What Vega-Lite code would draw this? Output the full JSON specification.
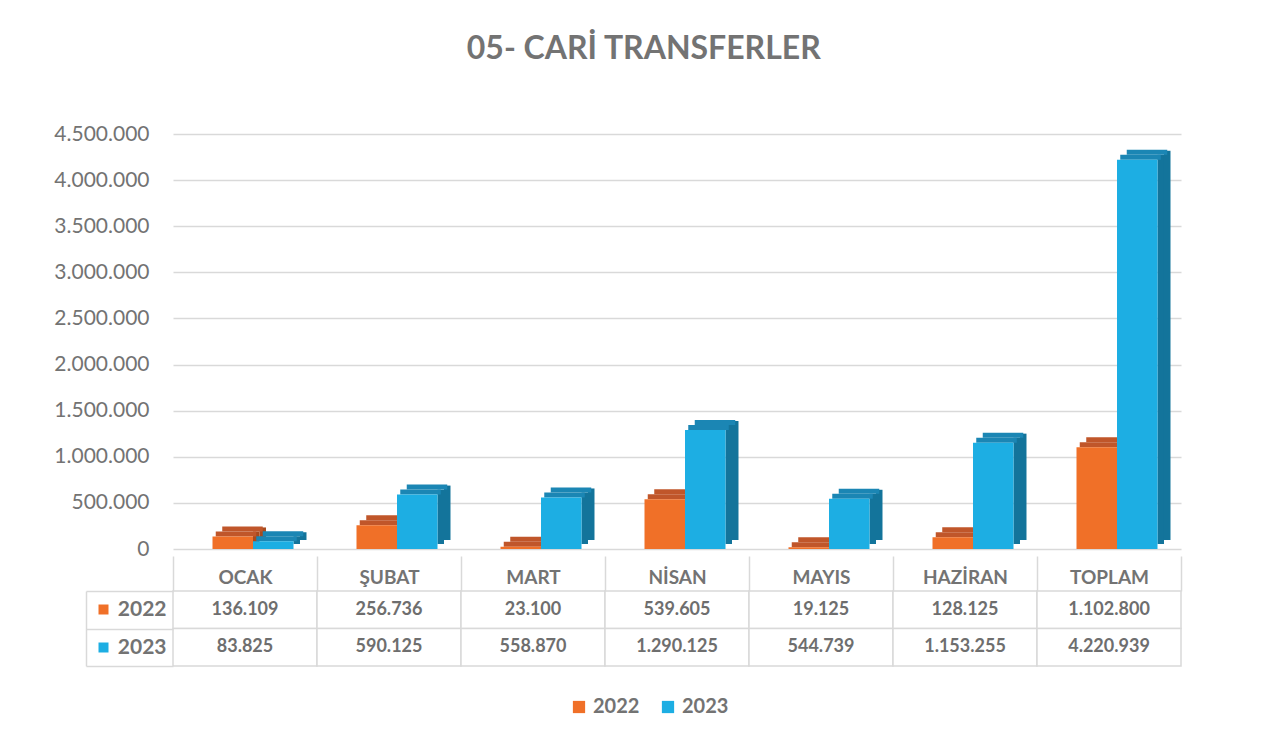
{
  "$schema": "https://vega.github.io/schema/vega-lite/v6.json",
  "background": "white",
  "padding": {"left": 53, "top": 33, "right": 10, "bottom": 10},
  "title": {"text": "05- CARİ TRANSFERLER", "font": "Lato", "fontSize": 32, "fontWeight": "bold", "color": "#737373", "anchor": "middle", "offset": 57, "dx": 26},
  "data": {"values": [
    {"month": "OCAK", "year": "2022", "value": 136109},
    {"month": "OCAK", "year": "2023", "value": 83825},
    {"month": "ŞUBAT", "year": "2022", "value": 256736},
    {"month": "ŞUBAT", "year": "2023", "value": 590125},
    {"month": "MART", "year": "2022", "value": 23100},
    {"month": "MART", "year": "2023", "value": 558870},
    {"month": "NİSAN", "year": "2022", "value": 539605},
    {"month": "NİSAN", "year": "2023", "value": 1290125},
    {"month": "MAYIS", "year": "2022", "value": 19125},
    {"month": "MAYIS", "year": "2023", "value": 544739},
    {"month": "HAZİRAN", "year": "2022", "value": 128125},
    {"month": "HAZİRAN", "year": "2023", "value": 1153255},
    {"month": "TOPLAM", "year": "2022", "value": 1102800},
    {"month": "TOPLAM", "year": "2023", "value": 4220939}
  ]},
  "bounds": "flush",
  "spacing": 42,
  "vconcat": [
    {
      "width": 1008,
      "height": 415,
      "encoding": {
        "y": {"field": "value", "type": "quantitative", "scale": {"domain": [0, 4500000], "nice": false},
              "axis": {"values": [0, 500000, 1000000, 1500000, 2000000, 2500000, 3000000, 3500000, 4000000, 4500000], "format": ",.0f", "labelFont": "Lato", "labelFontSize": 21, "labelColor": "#737373", "labelPadding": 24, "ticks": false, "domain": false, "grid": true, "gridColor": "#D9D9D9", "gridWidth": 1.5, "title": null}}
      },
      "layer": [
        {
          "mark": {"type": "bar", "yOffset": -5},
          "encoding": {
            "x": {"field": "month", "type": "nominal", "sort": ["OCAK", "ŞUBAT", "MART", "NİSAN", "MAYIS", "HAZİRAN", "TOPLAM"], "scale": {"paddingInner": 0.4375, "paddingOuter": 0.21875, "align": 0.7302}, "axis": null},
            "xOffset": {"field": "year", "type": "nominal", "scale": {"paddingInner": 0.8395, "paddingOuter": 0.4198, "align": 1}},
            "color": {"condition": {"test": "datum.year == '2022'", "value": "#A84A1E"}, "value": "#13749B"}
          }
        },
        {
          "mark": {"type": "bar", "yOffset": -9},
          "encoding": {
            "x": {"field": "month", "type": "nominal", "sort": ["OCAK", "ŞUBAT", "MART", "NİSAN", "MAYIS", "HAZİRAN", "TOPLAM"], "scale": {"paddingInner": 0.4375, "paddingOuter": 0.21875, "align": 0.8333}, "axis": null},
            "xOffset": {"field": "year", "type": "nominal", "scale": {"paddingInner": 0.8395, "paddingOuter": 0.4198, "align": 1}},
            "color": {"condition": {"test": "datum.year == '2022'", "value": "#A84A1E"}, "value": "#13749B"}
          }
        },
        {
          "mark": {"type": "tick", "thickness": 5, "size": 40.5, "yOffset": -2.5, "opacity": 1},
          "encoding": {
            "x": {"field": "month", "type": "nominal", "sort": ["OCAK", "ŞUBAT", "MART", "NİSAN", "MAYIS", "HAZİRAN", "TOPLAM"], "scale": {"paddingInner": 0.4375, "paddingOuter": 0.21875, "align": 0.6786}, "axis": null},
            "xOffset": {"field": "year", "type": "nominal", "scale": {"paddingInner": 0}},
            "color": {"condition": {"test": "datum.year == '2022'", "value": "#C0562A"}, "value": "#1B86B4"}
          }
        },
        {
          "mark": {"type": "tick", "thickness": 5, "size": 40.5, "yOffset": -7.5, "opacity": 1},
          "encoding": {
            "x": {"field": "month", "type": "nominal", "sort": ["OCAK", "ŞUBAT", "MART", "NİSAN", "MAYIS", "HAZİRAN", "TOPLAM"], "scale": {"paddingInner": 0.4375, "paddingOuter": 0.21875, "align": 0.7817}, "axis": null},
            "xOffset": {"field": "year", "type": "nominal", "scale": {"paddingInner": 0}},
            "color": {"condition": {"test": "datum.year == '2022'", "value": "#C0562A"}, "value": "#1B86B4"}
          }
        },
        {
          "mark": {"type": "bar"},
          "encoding": {
            "x": {"field": "month", "type": "nominal", "sort": ["OCAK", "ŞUBAT", "MART", "NİSAN", "MAYIS", "HAZİRAN", "TOPLAM"], "scale": {"paddingInner": 0.4375, "paddingOuter": 0.21875, "align": 0.627}, "axis": null},
            "xOffset": {"field": "year", "type": "nominal", "scale": {"paddingInner": 0}},
            "color": {"field": "year", "type": "nominal", "scale": {"domain": ["2022", "2023"], "range": ["#F07028", "#1DAEE3"]}, "legend": {"title": "\u00a0", "titleOrient": "right", "titlePadding": 58, "orient": "bottom", "direction": "horizontal", "labelFont": "Lato", "labelFontSize": 20, "labelFontWeight": "bold", "labelColor": "#737373", "symbolType": "square", "symbolSize": 150, "symbolStrokeWidth": 0, "columnPadding": 18, "offset": 30}}
          }
        }
      ],
      "resolve": {"scale": {"x": "independent", "xOffset": "independent"}}
    },
    {
      "width": 1008,
      "height": 75,
      "encoding": {
        "x": {"field": "month", "type": "nominal", "sort": ["OCAK", "ŞUBAT", "MART", "NİSAN", "MAYIS", "HAZİRAN", "TOPLAM"], "scale": {"paddingInner": 0, "paddingOuter": 0},
              "axis": {"orient": "top", "title": null, "tickBand": "extent", "tickSize": 35, "tickColor": "#D9D9D9", "tickWidth": 1.5, "domain": false, "labelAngle": 0, "labelFont": "Lato", "labelFontSize": 19, "labelFontWeight": "bold", "labelColor": "#737373", "labelPadding": -31}}
      },
      "layer": [
        {
          "mark": {"type": "rect", "fill": "white", "stroke": "#D9D9D9", "strokeWidth": 1.5},
          "encoding": {
            "y": {"field": "year", "type": "nominal", "scale": {"paddingInner": 0, "paddingOuter": 0},
                  "axis": {"orient": "left", "title": null, "tickBand": "extent", "tickSize": 87, "tickColor": "#D9D9D9", "tickWidth": 1.5, "domain": false, "labelFont": "Lato", "labelFontSize": 21, "labelFontWeight": "bold", "labelColor": "#737373", "labelPadding": -80}}
          }
        },
        {
          "mark": {"type": "text", "font": "Lato", "fontSize": 18, "fontWeight": "bold", "color": "#6E6E6E"},
          "encoding": {
            "y": {"field": "year", "type": "nominal",
                  "axis": {"orient": "left", "title": null, "offset": 65, "domain": false, "labels": false, "grid": false, "ticks": true, "tickBand": "center", "tickSize": 10, "tickWidth": 10, "tickCap": "butt", "tickColor": {"expr": "datum.value == '2022' ? '#F07028' : '#1DAEE3'"}}},
            "text": {"field": "value", "type": "quantitative", "format": ",.0f"}
          }
        },
        {
          "mark": {"type": "text", "opacity": 0},
          "encoding": {
            "y": {"field": "year", "type": "nominal",
                  "axis": {"orient": "left", "title": null, "offset": 87, "domain": true, "domainColor": "#D9D9D9", "domainWidth": 1.5, "labels": false, "ticks": false, "grid": false}},
            "text": {"field": "value", "type": "quantitative", "format": ",.0f"}
          }
        }
      ],
      "resolve": {"axis": {"y": "independent"}}
    }
  ],
  "resolve": {"scale": {"color": "shared"}, "legend": {"color": "shared"}},
  "config": {
    "font": "Lato",
    "view": {"stroke": null},
    "legend": {"layout": {"bottom": {"anchor": "middle"}}},
    "locale": {"number": {"decimal": ",", "thousands": ".", "grouping": [3], "currency": ["", " TL"]}}
  }
}
